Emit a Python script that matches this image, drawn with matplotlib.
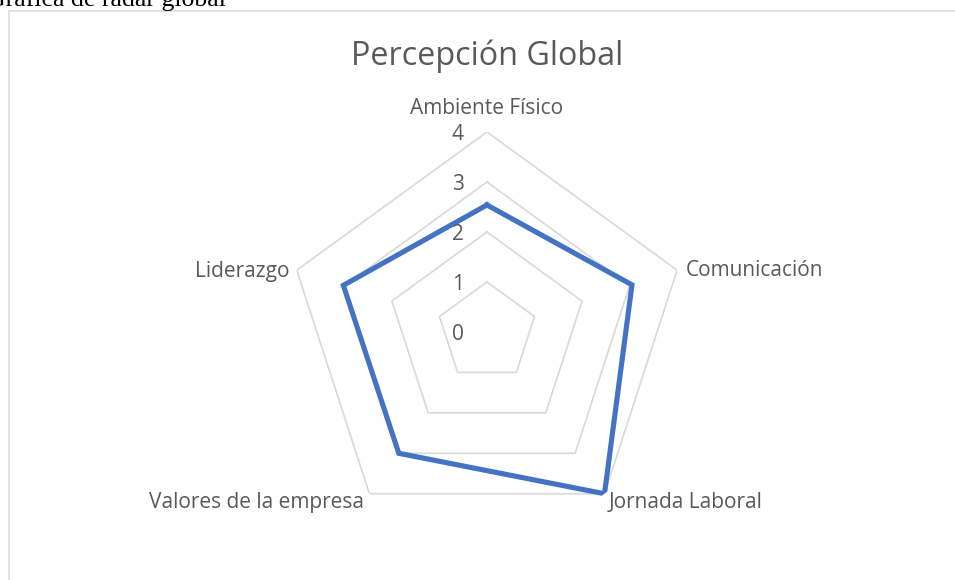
import numpy as np
import matplotlib.pyplot as plt
from matplotlib.patches import Rectangle
from matplotlib.transforms import offset_copy

categorias = ['Ambiente Físico', 'Comunicación', 'Jornada Laboral',
              'Valores de la empresa', 'Liderazgo']
valores = [2.54, 3.05, 4.0, 3.0, 3.02]
niveles = [0, 1, 2, 3, 4]

gris = '#595959'
azul = '#4472C4'
fuente = 'Open Sans'

fig = plt.figure(figsize=(9.55, 5.8), dpi=100)

# texto del documento, cortado por arriba
fig.text(-13 / 955, 1 - 6 / 580, 'Gráfica de radar global', family='Liberation Serif',
         fontsize=18.5, color='black', ha='left', va='baseline')
# borde del area del grafico
fig.add_artist(Rectangle((8.5 / 955, -0.1), 1.2, 1 - 10.5 / 580 + 0.1, transform=fig.transFigure,
                         fill=False, edgecolor='#d9d9d9', linewidth=1.1))

fig.text(487 / 955, 1 - 56 / 580, 'Percepción Global', family=fuente, fontsize=23.3,
         color=gris, ha='center', va='center')

ax = fig.add_axes([0.3005, 0.0828, 0.4188, 0.6897], projection='polar')
ax.set_theta_offset(np.pi / 2)
ax.set_theta_direction(-1)
ax.set_ylim(0, 4)
ax.grid(False)
ax.set_xticks([])
ax.set_yticks([])
ax.spines['polar'].set_visible(False)
ax.patch.set_alpha(0)

angulos = np.linspace(0, 2 * np.pi, len(categorias), endpoint=False)
ang_cerrado = np.append(angulos, angulos[0])

# rejilla pentagonal
for n in niveles[1:]:
    ax.plot(ang_cerrado, [n] * len(ang_cerrado), color='#d9d9d9', lw=1.2, zorder=1)

ax.plot(ang_cerrado, valores + valores[:1], color=azul, lw=3.7, zorder=3,
        solid_joinstyle='miter')

# etiquetas del eje de valores
t_niv = offset_copy(ax.transData, fig=fig, x=-23, y=-3, units='dots')
for n in niveles:
    ax.text(0, n, str(n), transform=t_niv, family=fuente, fontsize=15, color=gris,
            ha='right', va='center')

# etiquetas de categorias
desplaz = [(0, 23, 'center'), (9, 0, 'left'), (4, -9, 'left'),
           (-5, -9, 'right'), (-7, -1, 'right')]
for a, cat, (dx, dy, ha) in zip(angulos, categorias, desplaz):
    t = offset_copy(ax.transData, fig=fig, x=dx, y=dy, units='dots')
    ax.text(a, niveles[-1], cat, transform=t, family=fuente, fontsize=15, color=gris,
            ha=ha, va='center')

fig.savefig('out.png', dpi=100)
